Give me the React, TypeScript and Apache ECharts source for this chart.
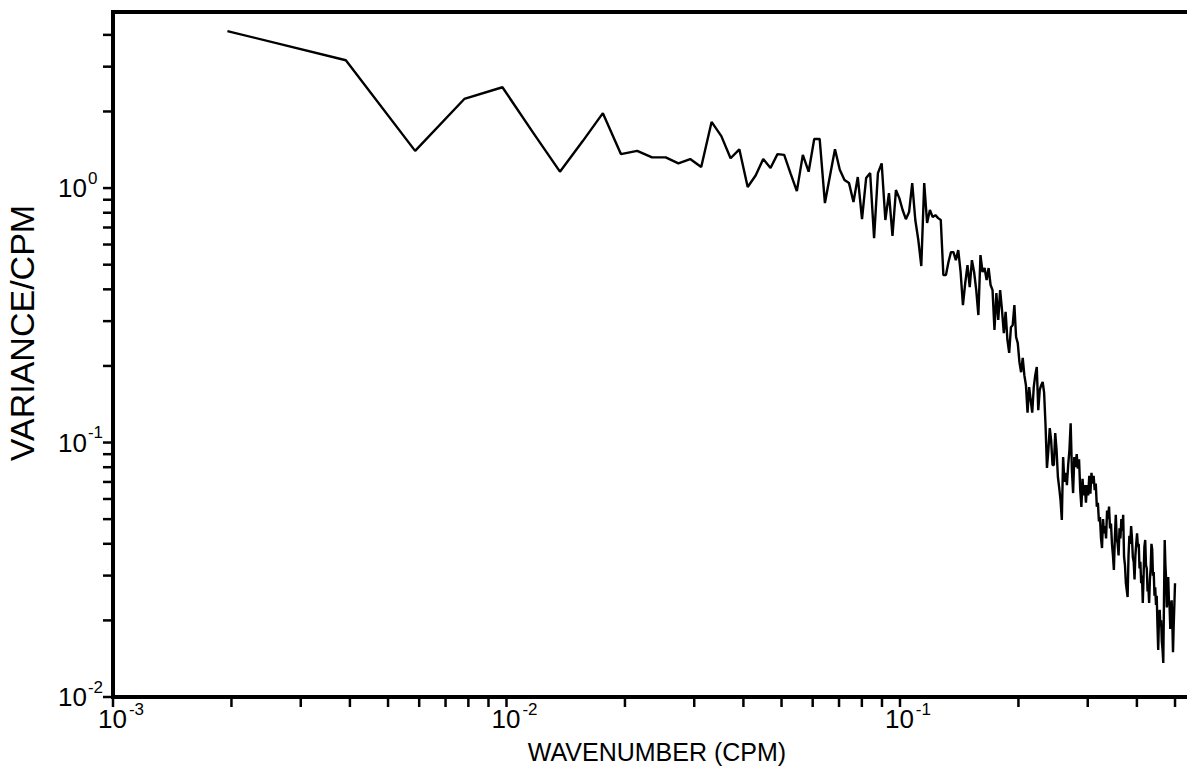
import React, { useEffect, useRef } from "react";
import * as echarts from "echarts";

// Spectral estimate: wavenumber step = 1/512 cpm (k = 1 .. 256)
const WAVENUMBER_STEP = 1 / 512;

const varianceK1to64 = [
  4.14, 3.18, 1.40, 2.24, 2.49, 1.64, 1.16, 1.53, 1.97, 1.36,
  1.40, 1.32, 1.32, 1.25, 1.30, 1.21, 1.82, 1.60, 1.31, 1.42,
  1.01, 1.12, 1.30, 1.20, 1.36, 1.35, 1.14, 0.973, 1.35, 1.16,
  1.56, 1.56, 0.873, 1.12, 1.42, 1.18, 1.075, 1.046, 0.881, 1.105,
  0.755, 1.095, 1.145, 0.636, 1.145, 1.25, 0.749, 0.956, 0.648, 0.982,
  0.913, 0.820, 0.755, 0.805, 1.046, 0.749, 0.625, 0.494, 1.046, 0.729,
  0.820, 0.769, 0.783, 0.762,
];
const varianceK65to128 = [
  0.749, 0.455, 0.455, 0.512, 0.560, 0.560,
  0.521, 0.571, 0.468, 0.347, 0.423, 0.498, 0.408, 0.521, 0.468, 0.397,
  0.317, 0.545, 0.468, 0.485, 0.435, 0.485, 0.416, 0.397, 0.277, 0.387,
  0.303, 0.397, 0.332, 0.269, 0.326, 0.253, 0.225, 0.284, 0.289, 0.347,
  0.260, 0.246, 0.207, 0.189, 0.215, 0.184, 0.168, 0.131, 0.165, 0.147,
  0.131, 0.165, 0.184, 0.198, 0.134, 0.161, 0.168, 0.173, 0.157, 0.117,
  0.0794, 0.0934, 0.114, 0.102, 0.0816, 0.0816, 0.109, 0.0934,
];
const varianceK129to192 = [
  0.0732, 0.0663,
  0.0594, 0.0496, 0.0877, 0.0700, 0.0760, 0.0680, 0.0816, 0.0934, 0.119, 0.0780,
  0.0633, 0.0877, 0.0800, 0.0900, 0.0790, 0.0860, 0.0650, 0.0558, 0.0720, 0.0620,
  0.0680, 0.0580, 0.0680, 0.0620, 0.0740, 0.0630, 0.0760, 0.0690, 0.0740, 0.0650,
  0.0690, 0.0560, 0.0580, 0.0490, 0.0510, 0.0420, 0.0385, 0.0500, 0.0440, 0.0470,
  0.0420, 0.0540, 0.0500, 0.0560, 0.0460, 0.0480, 0.0400, 0.0361, 0.0316, 0.0420,
  0.0520, 0.0420, 0.0400, 0.0360, 0.0460, 0.0420, 0.0500, 0.0450, 0.0520, 0.0355,
  0.0330, 0.0280,
];
const varianceK193to256 = [
  0.0263, 0.0247, 0.0360, 0.0430, 0.0400, 0.0470, 0.0420, 0.0355,
  0.0340, 0.0290, 0.0360, 0.0400, 0.0440, 0.0390, 0.0400, 0.0320, 0.0340, 0.0280,
  0.0300, 0.0234, 0.0300, 0.0390, 0.0414, 0.0330, 0.0320, 0.0260, 0.0270, 0.0234,
  0.0290, 0.0320, 0.0400, 0.0380, 0.0300, 0.0310, 0.0250, 0.0270, 0.0230, 0.0250,
  0.0192, 0.0153, 0.0200, 0.0220, 0.0190, 0.0200, 0.0165, 0.0153, 0.0136, 0.0240,
  0.0414, 0.0330, 0.0290, 0.0225, 0.0270, 0.0296, 0.0240, 0.0225, 0.0185, 0.0215,
  0.0240, 0.0195, 0.0150, 0.0190, 0.0230, 0.0280,
];

const X_MIN = 0.001;
const X_MAX = 0.549;
const Y_MIN = 0.01;
const Y_MAX = 4.92;

const xMajorTicks = [0.001, 0.01, 0.1];
const xTickExponents = ["-3", "-2", "-1"];
const xMinorTicks = [
  0.002, 0.003, 0.004, 0.005, 0.006, 0.007, 0.008, 0.009,
  0.02, 0.03, 0.04, 0.05, 0.06, 0.07, 0.08, 0.09,
  0.2, 0.3, 0.4, 0.5,
];
const yMajorTicks = [0.01, 0.1, 1];
const yTickExponents = ["-2", "-1", "0"];
const yMinorTicks = [
  0.02, 0.03, 0.04, 0.05, 0.06, 0.07, 0.08, 0.09,
  0.2, 0.3, 0.4, 0.5, 0.6, 0.7, 0.8, 0.9,
  2, 3, 4,
];

const X_NAME = "WAVENUMBER (CPM)";
const Y_NAME = "VARIANCE/CPM";

const FONT = "'Liberation Sans', Arial, sans-serif";

function findExp(value: number, ticks: number[], exps: string[]): string | null {
  for (let i = 0; i < ticks.length; i++) {
    if (Math.abs(Math.log10(value) - Math.log10(ticks[i])) < 1e-6) return exps[i];
  }
  return null;
}

// Outward tick marks drawn as thin rect symbols on the axes' own scales.
function tickMarkSeries(values: number[], axis: "x" | "y") {
  return {
    type: "scatter",
    xAxisIndex: 0,
    yAxisIndex: 0,
    silent: true,
    clip: false,
    z: 6,
    symbol: "rect",
    symbolSize: axis === "x" ? [2.5, 10] : [10, 2.5],
    symbolOffset: axis === "x" ? [0, 5] : [-5, 0],
    itemStyle: { color: "#000", opacity: 1 },
    emphasis: { disabled: true },
    data: values.map((v) => (axis === "x" ? [v, Y_MIN] : [X_MIN, v])),
  };
}

export default function App() {
  const ref = useRef<HTMLDivElement>(null);

  useEffect(() => {
    if (!ref.current) return;
    const chart = echarts.init(ref.current, null, { renderer: "svg" });

    const variance = [
      ...varianceK1to64,
      ...varianceK65to128,
      ...varianceK129to192,
      ...varianceK193to256,
    ];
    const lineData = variance.map((v, i) => [(i + 1) * WAVENUMBER_STEP, v]);

    const richBase = {
      s: { width: 17, fontSize: 17 },
      a: { fontSize: 26, fontFamily: FONT, color: "#000", lineHeight: 30 },
      b: {
        fontSize: 17,
        fontFamily: FONT,
        color: "#000",
        lineHeight: 17,
        padding: [0, 0, 20, 1],
        width: 17,
      },
    };

    const option: any = {
      animation: false,
      backgroundColor: "#fff",
      grid: {
        left: 113,
        top: 12,
        right: -4,
        bottom: 70,
        containLabel: false,
        outerBoundsMode: "none",
        show: true,
        borderColor: "#000",
        borderWidth: 4,
        backgroundColor: "transparent",
      },
      xAxis: {
        type: "log",
        logBase: 10,
        min: X_MIN,
        max: X_MAX,
        position: "bottom",
        axisLine: { show: true, onZero: false, lineStyle: { color: "#000", width: 4 } },
        axisTick: { show: false },
        splitLine: { show: false },
        axisLabel: {
          margin: 7,
          align: "center",
          verticalAlign: "top",
          formatter: (value: number) => {
            const e = findExp(value, xMajorTicks, xTickExponents);
            return e === null ? "" : `{s|}{a|10}{b|${e}}`;
          },
          rich: richBase,
        },
      },
      yAxis: {
        type: "log",
        logBase: 10,
        min: Y_MIN,
        max: Y_MAX,
        axisLine: { show: true, onZero: false, lineStyle: { color: "#000", width: 4 } },
        axisTick: { show: false },
        splitLine: { show: false },
        axisLabel: {
          margin: 55,
          align: "left",
          verticalAlign: "middle",
          formatter: (value: number) => {
            const e = findExp(value, yMajorTicks, yTickExponents);
            return e === null ? "" : `{a|10}{b|${e}}`;
          },
          rich: richBase,
        },
      },
      graphic: {
        elements: [
          {
            type: "text",
            x: 657,
            y: 752,
            style: {
              text: X_NAME,
              fontSize: 25,
              fontFamily: FONT,
              fill: "#000",
              align: "center",
              verticalAlign: "middle",
            },
          },
          {
            type: "text",
            x: 22,
            y: 333,
            rotation: Math.PI / 2,
            style: {
              text: Y_NAME,
              fontSize: 34,
              fontFamily: FONT,
              fill: "#000",
              align: "center",
              verticalAlign: "middle",
            },
          },
        ],
      },
      series: [
        {
          type: "line",
          xAxisIndex: 0,
          yAxisIndex: 0,
          data: lineData,
          showSymbol: false,
          symbol: "none",
          lineStyle: { color: "#000", width: 2.4 },
          z: 3,
        },
        tickMarkSeries([...xMajorTicks, ...xMinorTicks], "x"),
        tickMarkSeries([...yMajorTicks, ...yMinorTicks], "y"),
      ],
    };

    chart.setOption(option);
    return () => chart.dispose();
  }, []);

  return (
    <div
      ref={ref}
      style={{ position: "fixed", left: 0, top: 0, width: 1187, height: 767, background: "#fff" }}
    />
  );
}
